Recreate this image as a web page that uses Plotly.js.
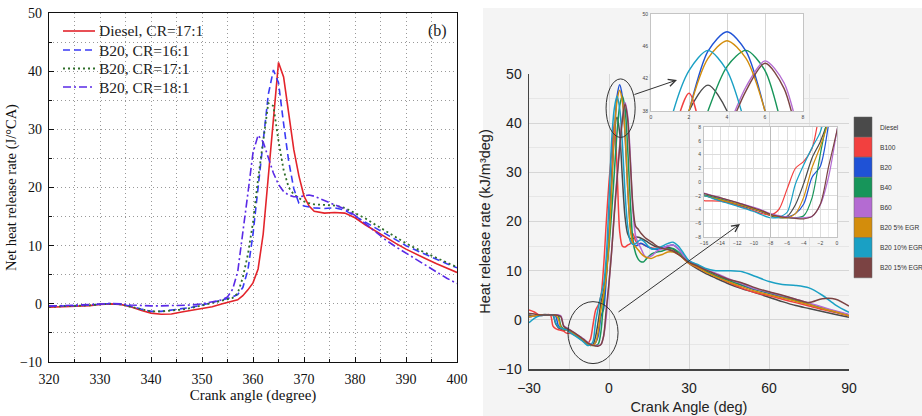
<!DOCTYPE html>
<html><head><meta charset="utf-8">
<script src="https://cdn.plot.ly/plotly-3.0.1.min.js"></script>
<style>html,body{margin:0;padding:0;background:#fff}#chart{width:922px;height:416px}</style>
</head><body><div id="chart"></div>
<script>
// ---------- Left chart data (crank angle in degree, net heat release rate J/°CA)
const leftAngle = [320,322,324,326,328,330,332,334,336,338,340,342,344,346,348,350,352,354,355,356,357,358,359,360,361,362,363,364,365,366,367,368,369,370,371,372,374,376,378,380,382,384,386,388,390,392,394,396,398,400];
const leftDieselCR17 = [-0.6,-0.55,-0.5,-0.45,-0.3,-0.1,0,-0.1,-0.5,-1.1, -1.6,-1.8,-1.75,-1.4,-1.1,-0.9,-0.5,0, 0.2,0.4,0.7,1.4,2.4,3.6,6,12,21.5,32,41.5,39,33,26.5,22,18.5,16.8,15.9, 15.6,15.7,15.6,14.8,13.6,12.5,11.4,10.4,9.4,8.5,7.7,6.9,6.1,5.4];
const leftB20CR16 = [-0.4,-0.4,-0.35,-0.3,-0.2,-0.05,0.05,-0.05,-0.4,-0.9, -1.3,-1.3,-1.1,-0.9,-0.6,-0.2,0.2,0.6, 0.9,1.2,1.6,2.8,5.8,12,20,28,36,40.2,38,31,24.5,19.8,17.3,16.8,16.6,16.5, 16.4,16.5,16.1,15.1,14,13,12,11,10,9.2,8.4,7.6,6.9,6.2];
const leftB20CR17 = [-0.5,-0.45,-0.4,-0.35,-0.25,-0.1,0,-0.1,-0.5,-1.0, -1.3,-1.3,-1.2,-1.0,-0.7,-0.3,0.1,0.5, 0.7,1.0,1.8,4.5,8.5,14,21.5,28,34.5,34,28,23,20,18.8,18.2,17.6,17.3,17.1, 17,16.9,16.5,15.6,14.7,13.6,12.5,11.4,10.4,9.5,8.7,7.9,7.1,6.3];
const leftB20CR18 = [-0.4,-0.35,-0.3,-0.25,-0.2,-0.05,0.05,0,-0.2,-0.3, -0.35,-0.35,-0.3,-0.3,-0.2,0,0.3,0.7, 1.2,2.5,5.5,12,19,26,29,27.8,25,22.5,20.5,19.3,18.7,18.4,18.4,18.6,18.7,18.5, 17.8,17.1,16.3,15.2,13.8,12.4,11,9.8,8.7,7.6,6.5,5.4,4.4,3.5];
const leftNames = ['Diesel, CR=17:1','B20, CR=16:1','B20, CR=17:1','B20, CR=18:1'];

// ---------- Right chart data (crank angle in deg, heat release rate kJ/m3deg)
const rightAngle = [-30,-28,-26,-24,-22,-21,-20,-19,-18,-17, -16,-14,-12,-10,-9,-8,-7,-6, -5,-4,-3,-2,-1,0,1,2,3,4, 5,6,7,8,9,10,11,12,13,14, 16,18,20,22,24,26,28,30, 33,36,40,45,50,55,60,65,70,75,80,85,90];
const rDiesel = [1.0,0.8,1.0,1.1,1.0,0.9,-0.8,-1.6,-1.9,-2.1, -2.0,-2.7,-3.3,-4.0,-4.4,-4.9,-5.2,-5.0, -3.3,-0.2,3.5,5.9,9.5,17,29,38,41.2,38, 29,21,17.5,16.5,16.5,16.8,16.8,16.6,16.3,16.0, 15.3,14.8,14.7,14.7,14.4,13.5,12.5,11.5, 10.4,9.5,8.5,7.3,6.3,5.5,4.6,3.7,2.9,2.3,1.7,1.1,0.5];
const rB100 = [2.0,1.6,0.9,1.0,1.0,-1.3,-1.8,-2.0,-2.1,-2.3, -2.7,-2.8,-3.4,-4.2,-4.6,-4.8,-4.0,-1.0, 2.0,3.0,4.9,11,20,28,34,40.2,31,18, 15,14.8,15.2,15.5,17.5,16,15.5,15.5,15.3,15, 14.6,14.5,14.5,14.5,14,13.4,12.5,11.5, 10.7,9.8,8.8,7.6,6.4,5.5,4.9,4.2,3.5,2.8,2.1,1.5,0.8];
const rB20 = [0.6,0.8,1.0,1.0,1.0,1.0,0.8,-1.2,-1.7,-1.9, -1.9,-2.5,-3.2,-3.9,-4.3,-4.7,-5.0,-5.1, -4.6,-3.2,0.7,2.3,8.5,17,28,38,45.4,47.8, 45.4,38,27,19,16,15,15.3,15.6,15.3,15, 14.5,14.3,14.6,15,15.2,14.4,13,12, 11,10,9,8,7,6.1,5.4,4.6,3.9,3.2,2.4,1.6,0.9];
const rB40 = [0.6,0.8,1.0,1.0,1.0,1.0,1.0,0.8,-1.3,-1.8, -1.9,-2.5,-3.2,-3.9,-4.3,-4.8,-5.1,-5.2, -5.2,-4.9,-2.3,4.1,10,15,22,30,38,43.5, 45.5,43,35,24,16,13.5,12.3,11.8,11.8,12.4, 13.4,13.8,14,14.4,14.5,13.8,12.8,11.8, 11,10,9,8,7.1,6.2,5.5,4.8,4.0,3.2,2.4,1.7,1.0];
const rB60 = [0.6,0.8,1.0,1.0,1.0,1.0,1.0,1.0,0.8,-1.2, -1.6,-2.3,-3.0,-3.7,-4.1,-4.6,-4.9,-5.1, -5.2,-5.2,-5.0,-3.3,0.8,7.5,14,22,29,35.5, 41,44.2,41.5,33,22,17,15.5,14.5,13.3,12.7, 13,14,14.5,15,15.2,14.5,13,12, 11.2,10.3,9.5,8.3,7.3,6.3,5.6,4.9,4.2,3.4,2.6,1.8,1.1];
const rB20EGR5 = [0.6,0.8,1.0,1.0,1.0,1.0,0.9,0.2,-1.6,-1.9, -2.0,-2.6,-3.2,-3.9,-4.3,-4.8,-5.1,-5.2, -4.6,-2.2,2.1,5.2,9,16,27,38,44.5,46.7, 44.5,38,27,18.5,15.5,14.8,14.2,13.5,13,12.7, 12.5,13,13.3,13.8,13.8,13.3,12.4,11.5, 10.8,9.8,8.8,7.7,6.7,5.8,5.1,4.5,3.8,3.1,2.3,1.6,0.8];
const rB20EGR10 = [-0.6,0.3,0.8,1.0,1.0,1.0,-0.6,-1.4,-1.7,-1.9, -2.0,-2.8,-3.5,-4.3,-4.8,-5.2,-5.1,-4.4, -0.3,2.5,5.0,7.3,13,24,36.5,43,45.5,43, 36,26,19,16,15.3,15.5,16,16.3,16,15.4, 14.4,14.5,15,15.5,15.8,15,13.5,12, 11.3,10.5,10,10,9.8,8.8,7.8,7.2,7.0,6.5,5.0,3.0,1.5];
const rB20EGR15 = [1.3,1.2,1.0,1.0,1.0,1.0,1.0,0.9,0.6,-1.3, -1.7,-2.3,-3.0,-3.8,-4.2,-4.7,-5.0,-5.2, -5.3,-5.35,-5.0,-3.2,2.3,7.5,14,21.5,28.5,35, 40.5,43.9,40.8,32,23,19,18.4,17.6,17,16.5, 15.8,15,14.5,14.3,14,13.3,12.5,11.7, 11,10.2,9.3,8.2,7.5,6.5,5.7,5.0,4.2,3.5,4.3,4.2,2.8];
const rightNames = ['Diesel','B100','B20','B40','B60','B20 5% EGR','B20 10% EGR','B20 15% EGR'];
const rightColors = ['#4a4a4a','#f2403f','#1f52d6','#17955a','#b46bd2','#d38d0c','#1aa0c4','#7b4343'];
const rightSeries = [rDiesel,rB100,rB20,rB40,rB60,rB20EGR5,rB20EGR10,rB20EGR15];

// ---------- layout geometry (pixels in the 922x416 page)
const W = 922, H = 416;
const px = (a,b) => [a/W, b/W];
const py = (top,bottom) => [1-bottom/H, 1-top/H];

const traces = [];
const leftY = [leftDieselCR17, leftB20CR16, leftB20CR17, leftB20CR18];
const leftStyle = [
  {color:'#e3242b', dash:'solid', width:1.6},
  {color:'#3a3af5', dash:'7px,4px', width:1.6},
  {color:'#2f6e2a', dash:'2px,3px', width:1.8},
  {color:'#5a2ae6', dash:'8px,3px,2px,3px', width:1.6}
];
leftY.forEach((y,i) => traces.push({
  x: leftAngle, y: y, name: leftNames[i], type:'scatter', mode:'lines',
  xaxis:'x', yaxis:'y', line: leftStyle[i], showlegend:false
}));
const subs = [['x2','y2',1.5],['x3','y3',1.4],['x4','y4',1.2]];
subs.forEach(s => rightSeries.forEach((y,i) => traces.push({
  x: rightAngle, y: y, name: rightNames[i], type:'scatter', mode:'lines',
  xaxis:s[0], yaxis:s[1], showlegend:false,
  line:{color:rightColors[i], width:s[2], shape:'spline', smoothing:0.8}
})));

const serif = 'Liberation Serif, Times New Roman, serif';
const sans = 'Liberation Sans, Arial, sans-serif';

const shapes = [
  // grey panel behind right chart
  {type:'rect', xref:'paper', yref:'paper', x0:483/W, x1:1, y0:0, y1:1-8/H, fillcolor:'#f4f4f4', line:{width:0}, layer:'below'},
  // ellipses
  {type:'circle', xref:'x2', yref:'y2', x0:-1.1, x1:9.8, y0:37.1, y1:49, line:{color:'#333', width:1}},
  {type:'circle', xref:'x2', yref:'y2', x0:-15.4, x1:3.4, y0:-8.9, y1:3.7, line:{color:'#333', width:1}},
  // darker reference line in lower inset
  {type:'line', xref:'x4', yref:'y4 domain', x0:-8, x1:-8, y0:0, y1:1, line:{color:'#bdbdbd', width:1}}
];
const annotations = [
  {xref:'paper', yref:'paper', x:437/W, y:1-31/H, yanchor:'middle', text:'(b)', showarrow:false, font:{family:serif, size:16, color:'#222'}},
  // arrows
  {xref:'paper', yref:'paper', x:677/W, y:1-80/H, ax:-44, ay:15, text:'', showarrow:true, arrowhead:5, arrowsize:1.4, arrowwidth:1, arrowcolor:'#333', standoff:0},
  {xref:'paper', yref:'paper', x:740/W, y:1-224/H, ax:-123, ay:89, text:'', showarrow:true, arrowhead:5, arrowsize:1.4, arrowwidth:1, arrowcolor:'#333', standoff:0}
];
// left legend (line samples + labels)
const legRows = [31, 50, 68.5, 87];
leftNames.forEach((n,i) => {
  const yy = 1 - legRows[i]/H;
  shapes.push({type:'line', xref:'paper', yref:'paper', x0:63/W, x1:95/W, y0:yy, y1:yy,
    line:{color:leftStyle[i].color, width:leftStyle[i].width, dash:leftStyle[i].dash}});
  annotations.push({xref:'paper', yref:'paper', x:97/W, y:yy, xanchor:'left', yanchor:'middle', text:n,
    showarrow:false, font:{family:serif, size:15.5, color:'#222'}});
});
// right legend (colour blocks with labels)
const legX0 = 854, legX1 = 872, legTop = 117, legStep = 20.1;
rightNames.forEach((n,i) => {
  const t = legTop + i*legStep;
  shapes.push({type:'rect', xref:'paper', yref:'paper', x0:legX0/W, x1:legX1/W, y0:1-(t+legStep)/H, y1:1-t/H,
    fillcolor:rightColors[i], line:{color:'#666', width:0.5}});
  annotations.push({xref:'paper', yref:'paper', x:878/W, y:1-(t+legStep/2)/H, xanchor:'left', yanchor:'middle',
    text:n, showarrow:false, font:{family:sans, size:6.6, color:'#333'}});
});

const layout = {
  width:W, height:H, margin:{l:0,r:0,t:0,b:0}, paper_bgcolor:'#ffffff', plot_bgcolor:'#ffffff',
  showlegend:false,
  xaxis:{domain:px(49,457), anchor:'y', range:[320,400], tick0:320, dtick:10, ticks:'inside', ticklen:5, tickcolor:'#111',
    showline:true, linecolor:'#111', linewidth:1.2, mirror:true, zeroline:false,
    showgrid:true, gridcolor:'#999', griddash:'1px,3px', gridwidth:1,
    minor:{dtick:5, ticks:'inside', ticklen:3, tickcolor:'#111', showgrid:true, gridcolor:'#999', griddash:'1px,3px'},
    tickfont:{family:serif, size:14, color:'#111'}, ticklabelstandoff:4, automargin:false,
    title:{text:'Crank angle (degree)', font:{family:serif, size:15, color:'#111'}, standoff:3}},
  yaxis:{domain:py(13,362), anchor:'x', range:[-10,50], dtick:10, ticks:'inside', ticklen:5, tickcolor:'#111',
    showline:true, linecolor:'#111', linewidth:1.2, mirror:true, zeroline:false,
    showgrid:true, gridcolor:'#999', griddash:'1px,3px', gridwidth:1,
    minor:{dtick:5, ticks:'inside', ticklen:3, tickcolor:'#111', showgrid:true, gridcolor:'#999', griddash:'1px,3px'},
    tickfont:{family:serif, size:14, color:'#111'}, ticklabelstandoff:3, automargin:false,
    title:{text:'Net heat release rate (J/°CA)', font:{family:serif, size:14.5, color:'#111'}, standoff:0}},
  xaxis2:{domain:px(529,849), anchor:'y2', range:[-30,90], tick0:-30, dtick:30, ticks:'', showline:true, linecolor:'#444', linewidth:1.5,
    zeroline:false, showgrid:true, gridcolor:'#d6d6d6', gridwidth:1,
    minor:{dtick:15, showgrid:true, gridcolor:'#e2e2e2'},
    tickfont:{family:sans, size:14, color:'#222'}, ticklabelstandoff:6, automargin:false,
    title:{text:'Crank Angle (deg)', font:{family:sans, size:14.5, color:'#222'}, standoff:6}},
  yaxis2:{domain:py(74,369), anchor:'x2', range:[-10,50], dtick:10, ticks:'', showline:true, linecolor:'#444', linewidth:1.5,
    zeroline:false, showgrid:true, gridcolor:'#d6d6d6', gridwidth:1,
    minor:{dtick:5, showgrid:true, gridcolor:'#e6e6e6'},
    tickfont:{family:sans, size:14, color:'#222'}, ticklabelstandoff:3, automargin:false,
    title:{text:'Heat release rate (kJ/m³deg)', font:{family:sans, size:14.5, color:'#222'}, standoff:4}},
  xaxis3:{domain:px(651,803), anchor:'y3', range:[0,8], dtick:2, ticks:'', showline:true, mirror:true, linecolor:'#c4c4c4', linewidth:1,
    zeroline:false, showgrid:true, gridcolor:'#d4d4d4', tickfont:{family:sans, size:5, color:'#444'}, ticklabelstandoff:1, automargin:false},
  yaxis3:{domain:py(14,111), anchor:'x3', range:[38,50], tickvals:[38,42,46,50], ticks:'', showline:true, mirror:true, linecolor:'#c4c4c4', linewidth:1,
    zeroline:false, showgrid:false, tickfont:{family:sans, size:5, color:'#444'}, ticklabelstandoff:1, automargin:false},
  xaxis4:{domain:px(704,837), anchor:'y4', range:[-16,0], dtick:2, ticks:'', showline:true, mirror:true, linecolor:'#c4c4c4', linewidth:1,
    zeroline:false, showgrid:true, gridcolor:'#dcdcdc', minor:{dtick:1, showgrid:true, gridcolor:'#ececec'},
    tickfont:{family:sans, size:5, color:'#444'}, ticklabelstandoff:1, automargin:false},
  yaxis4:{domain:py(127,237), anchor:'x4', range:[-8,8], dtick:2, ticks:'', showline:true, mirror:true, linecolor:'#c4c4c4', linewidth:1,
    zeroline:false, showgrid:true, gridcolor:'#dcdcdc', tickfont:{family:sans, size:5, color:'#444'}, ticklabelstandoff:1, automargin:false},
  shapes: shapes,
  annotations: annotations
};

Plotly.newPlot('chart', traces, layout, {staticPlot:true, displayModeBar:false});
</script>
</body></html>
